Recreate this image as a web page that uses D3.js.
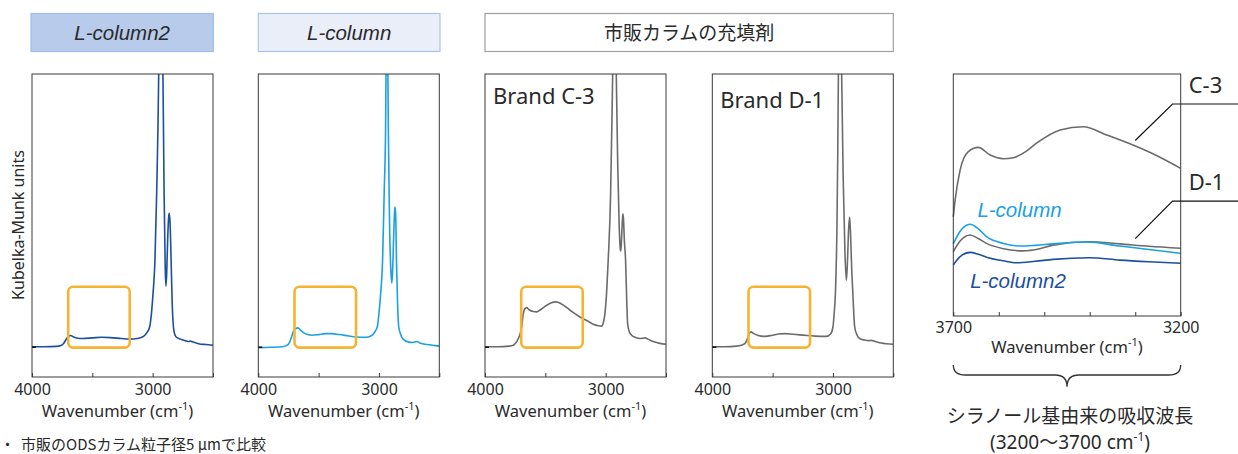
<!DOCTYPE html>
<html><head><meta charset="utf-8">
<script src="https://cdn.jsdelivr.net/npm/d3@7"></script>
<style>body{margin:0;background:#fff}svg{display:block}</style>
</head><body>
<script>
// ---------- data ----------
const headerLabels = ["L-column2", "L-column", "市販カラムの充填剤"];
const panelLabels = ["", "", "Brand C-3", "Brand D-1"];
const wnDomain = [4000, 2500];
const wnTicks = [4000, 3500, 3000, 2500];
const wnTickLabels = [4000, 3000];
const insetDomain = [3700, 3200];
const insetTicks = [3700, 3600, 3500, 3400, 3300, 3200];
const insetTickLabels = [3700, 3200];
const highlightRange = [3700, 3190];
const highlightLevels = [-0.03, 1.98];

const specLColumn2 = [[4000,0],[3900,0],[3800,0.01],[3760,0.04],[3740,0.1],[3720,0.22],[3700,0.33],[3680,0.37],[3660,0.33],[3630,0.29],[3580,0.27],[3500,0.29],[3420,0.31],[3350,0.30],[3260,0.27],[3190,0.25],[3130,0.27],[3085,0.32],[3050,0.45],[3025,0.65],[3010,1.1],[2997,1.75],[2981,2.85],[2967,5.05],[2956,7.25],[2950,9],[2940,13],[2930,15],[2921,12],[2915,9],[2905,5],[2896,2.6],[2890,2.0],[2884,2.4],[2876,3.5],[2867,4.3],[2862,4.4],[2856,4.1],[2848,3.0],[2838,1.4],[2830,0.75],[2820,0.45],[2805,0.32],[2770,0.25],[2730,0.2],[2700,0.17],[2688,0.19],[2670,0.16],[2620,0.1],[2560,0.07],[2500,0.05]];
const specLColumn = [[4000,-0.03],[3900,-0.02],[3800,0.0],[3760,0.05],[3740,0.15],[3726,0.3],[3710,0.5],[3690,0.6],[3671,0.62],[3650,0.55],[3620,0.45],[3590,0.4],[3562,0.38],[3500,0.4],[3440,0.43],[3397,0.43],[3330,0.4],[3260,0.36],[3191,0.32],[3120,0.31],[3082,0.33],[3050,0.4],[3027,0.54],[3014,0.65],[3000,1.1],[2986,1.75],[2970,2.85],[2957,5.05],[2945,7.25],[2940,10],[2934,14],[2928,10],[2922,7],[2912,4],[2900,2.4],[2893,2.1],[2886,2.6],[2877,3.8],[2870,4.5],[2866,4.61],[2861,4.3],[2855,2.85],[2845,1.3],[2836,0.65],[2822,0.43],[2800,0.25],[2754,0.15],[2720,0.14],[2685,0.17],[2660,0.12],[2600,0.07],[2500,0.02]];
const specBrandC3 = [[4000,0],[3900,0],[3800,0.02],[3765,0.05],[3740,0.15],[3715,0.35],[3696,0.65],[3683,1.09],[3670,1.25],[3655,1.29],[3635,1.22],[3600,1.16],[3572,1.15],[3540,1.22],[3500,1.34],[3450,1.45],[3412,1.48],[3370,1.42],[3300,1.22],[3213,0.98],[3150,0.85],[3103,0.74],[3060,0.69],[3034,0.68],[3020,0.78],[3006,1.09],[2992,1.8],[2979,2.85],[2959,5.05],[2948,7.5],[2942,9],[2935,12],[2929,14],[2920,11],[2912,9],[2900,6],[2888,4],[2878,3.2],[2874,3.16],[2868,3.6],[2861,4.2],[2857,4.39],[2852,4.2],[2845,3.5],[2835,2.85],[2826,1.6],[2818,0.76],[2805,0.5],[2785,0.38],[2750,0.3],[2716,0.27],[2690,0.28],[2674,0.29],[2650,0.25],[2600,0.16],[2550,0.11],[2500,0.08]];
const specBrandD1 = [[4000,0],[3900,0],[3800,0.02],[3760,0.05],[3730,0.1],[3710,0.25],[3695,0.42],[3680,0.49],[3660,0.44],[3620,0.37],[3564,0.34],[3500,0.38],[3450,0.42],[3399,0.43],[3330,0.41],[3220,0.37],[3150,0.35],[3055,0.34],[3020,0.42],[3000,0.65],[2990,1.1],[2980,1.75],[2967,3.95],[2960,6.5],[2955,9],[2948,12],[2942,14],[2935,12],[2928,9],[2915,5.5],[2900,3.0],[2889,2.19],[2880,2.8],[2870,3.9],[2862,4.28],[2855,3.8],[2845,2.6],[2835,1.75],[2820,0.65],[2800,0.38],[2779,0.27],[2740,0.22],[2700,0.2],[2683,0.21],[2650,0.17],[2600,0.12],[2500,0.08]];

const insetC3 = [[3700,4.1],[3696,4.79],[3685,6.03],[3667,6.79],[3645,6.97],[3619,6.65],[3590,6.5],[3568,6.54],[3540,6.8],[3517,7.14],[3465,7.69],[3414,7.82],[3363,7.48],[3297,7.0],[3250,6.6],[3200,6.1]];
const insetD1 = [[3700,2.66],[3685,3.1],[3663,3.35],[3645,3.2],[3627,3.0],[3590,2.78],[3547,2.69],[3510,2.78],[3481,2.93],[3400,3.07],[3334,2.98],[3270,2.88],[3200,2.80]];
const insetLColumn = [[3700,2.98],[3685,3.5],[3663,3.79],[3645,3.6],[3627,3.28],[3590,3.0],[3554,2.89],[3520,2.92],[3481,2.98],[3408,3.06],[3334,2.89],[3270,2.75],[3200,2.59]];
const insetLColumn2 = [[3700,2.11],[3685,2.45],[3663,2.63],[3645,2.55],[3627,2.43],[3590,2.28],[3561,2.2],[3520,2.26],[3481,2.34],[3400,2.41],[3334,2.31],[3270,2.24],[3200,2.18]];
const insetLabelLColumn = [3647, 4.1];
const insetLabelLColumn2 = [3663, 1.14];
const leaderC3 = [[3300, 7.25], [3218, 8.76]];
const leaderD1 = [[3300, 3.2], [3218, 4.75]];

// ---------- styles ----------
const C_DARK = "#1c4f9f", C_LIGHT = "#1ba0e2", C_GRAY = "#6b6b6b", C_ORANGE = "#f6b332";
const TXT = "#2a2a2a", FRAME = "#3a3a3a";
const LATIN = "'Noto Sans', 'DejaVu Sans', sans-serif";
const CJK = "'Noto Sans CJK JP', 'Noto Sans', sans-serif";

const W = 1238, H = 454;
const svg = d3.select("body").append("svg").attr("width", W).attr("height", H);

// ---------- headers ----------
const headerBoxes = [
  {x0: 31, x1: 213.3, fill: "#b8cbea", stroke: "#9fbde6", font: "'Liberation Sans', Arial, sans-serif", italic: true, size: 20.5},
  {x0: 258.3, x1: 440, fill: "#e9eef9", stroke: "#a9c5ec", font: "'Liberation Sans', Arial, sans-serif", italic: true, size: 20.5},
  {x0: 485, x1: 893.3, fill: "#ffffff", stroke: "#a0a0a0", font: CJK, italic: false, size: 19}
];
headerBoxes.forEach((b, i) => {
  svg.append("rect").attr("x", b.x0).attr("y", 13.5).attr("width", b.x1 - b.x0).attr("height", 38)
    .attr("fill", b.fill).attr("stroke", b.stroke).attr("stroke-width", 1.2);
  svg.append("text").attr("x", (b.x0 + b.x1) / 2).attr("y", 40).attr("text-anchor", "middle")
    .attr("font-family", b.font).attr("font-size", b.size).attr("font-style", b.italic ? "italic" : "normal")
    .attr("fill", TXT).text(headerLabels[i]);
});

// ---------- helpers ----------
function wavenumberTitle(g, cx, baseline) {
  const t = g.append("text").attr("x", cx).attr("y", baseline).attr("text-anchor", "middle")
    .attr("font-family", LATIN).attr("font-size", 16.5).attr("fill", TXT);
  t.append("tspan").text("Wavenumber (cm");
  t.append("tspan").attr("font-size", 11).attr("dy", -7).text("-1");
  t.append("tspan").attr("dy", 7).text(")");
}

// ---------- spectra panels ----------
const panelLefts = [32, 258.3, 485, 712.3];
const panelW = 181, pTop = 74, pBottom = 377;
const spectra = [specLColumn2, specLColumn, specBrandC3, specBrandD1];
const colors = [C_DARK, C_LIGHT, C_GRAY, C_GRAY];

spectra.forEach((data, i) => {
  const x0 = panelLefts[i];
  const x = d3.scaleLinear().domain(wnDomain).range([x0, x0 + panelW]);
  const y = d3.scaleLinear().domain([-1, 9]).range([pBottom, pTop]);
  const g = svg.append("g");
  const clipId = "clip" + i;
  svg.append("clipPath").attr("id", clipId).append("rect")
    .attr("x", x0).attr("y", pTop).attr("width", panelW).attr("height", pBottom - pTop);
  const line = d3.line().x(d => x(d[0])).y(d => y(d[1])).curve(d3.curveMonotoneX);
  g.append("path").datum(data).attr("d", line).attr("fill", "none")
    .attr("stroke", colors[i]).attr("stroke-width", 1.6).attr("clip-path", `url(#${clipId})`);
  // highlight box
  g.append("rect").attr("x", x(highlightRange[0])).attr("y", y(highlightLevels[1]))
    .attr("width", x(highlightRange[1]) - x(highlightRange[0]))
    .attr("height", y(highlightLevels[0]) - y(highlightLevels[1]))
    .attr("rx", 5).attr("fill", "none").attr("stroke", C_ORANGE).attr("stroke-width", 2.6);
  // frame
  g.append("rect").attr("x", x0).attr("y", pTop).attr("width", panelW).attr("height", pBottom - pTop)
    .attr("fill", "none").attr("stroke", FRAME).attr("stroke-width", 1);
  // x axis
  const ax = g.append("g").attr("transform", `translate(0,${pBottom})`)
    .call(d3.axisBottom(x).tickValues(wnTicks).tickSize(-4).tickPadding(6.8)
      .tickFormat(d => wnTickLabels.includes(d) ? d : ""));
  ax.select(".domain").remove();
  ax.selectAll("line").attr("stroke", FRAME);
  ax.selectAll("text").attr("font-family", LATIN).attr("font-size", 16).attr("fill", TXT);
  // y baseline tick
  const ay = g.append("g").attr("transform", `translate(${x0},0)`)
    .call(d3.axisLeft(y).tickValues([0]).tickSize(-4).tickFormat(""));
  ay.select(".domain").remove();
  ay.selectAll("line").attr("stroke", "#111").attr("stroke-width", 1.5);
  wavenumberTitle(g, x0 + panelW / 2 - 5, 416.5);
  if (panelLabels[i]) {
    g.append("text").attr("x", x0 + 8).attr("y", i === 2 ? 103.5 : 107.5)
      .attr("font-family", LATIN).attr("font-size", 22).attr("fill", TXT).text(panelLabels[i]);
  }
});

// y-axis label
svg.append("text").attr("transform", "translate(23.5,225) rotate(-90)").attr("text-anchor", "middle")
  .attr("font-family", LATIN).attr("font-size", 16).attr("fill", TXT).text("Kubelka-Munk units");

// ---------- inset ----------
const iL = 953.3, iR = 1180.7, iT = 74, iB = 316;
const xi = d3.scaleLinear().domain(insetDomain).range([iL, iR]);
const yi = d3.scaleLinear().domain([0, 10]).range([iB, iT]);
const gi = svg.append("g");
const iline = d3.line().x(d => xi(d[0])).y(d => yi(d[1])).curve(d3.curveMonotoneX);
[[insetC3, C_GRAY], [insetD1, C_GRAY], [insetLColumn, C_LIGHT], [insetLColumn2, C_DARK]].forEach(([d, c]) => {
  gi.append("path").datum(d).attr("d", iline).attr("fill", "none").attr("stroke", c).attr("stroke-width", 1.6);
});
gi.append("rect").attr("x", iL).attr("y", iT).attr("width", iR - iL).attr("height", iB - iT)
  .attr("fill", "none").attr("stroke", FRAME).attr("stroke-width", 1);
const axi = gi.append("g").attr("transform", `translate(0,${iB})`)
  .call(d3.axisBottom(xi).tickValues(insetTicks).tickSize(-4).tickPadding(5.2)
    .tickFormat(d => insetTickLabels.includes(d) ? d : ""));
axi.select(".domain").remove();
axi.selectAll("line").attr("stroke", FRAME);
axi.selectAll("text").attr("font-family", LATIN).attr("font-size", 16).attr("fill", TXT);
wavenumberTitle(gi, (iL + iR) / 2, 352.5);

gi.append("text").attr("x", xi(insetLabelLColumn[0])).attr("y", yi(insetLabelLColumn[1]))
  .attr("font-family", "'Liberation Sans', Arial, sans-serif").attr("font-style", "italic")
  .attr("font-size", 20.5).attr("fill", C_LIGHT).text("L-column");
gi.append("text").attr("x", xi(insetLabelLColumn2[0])).attr("y", yi(insetLabelLColumn2[1]))
  .attr("font-family", "'Liberation Sans', Arial, sans-serif").attr("font-style", "italic")
  .attr("font-size", 20.5).attr("fill", C_DARK).text("L-column2");

[[leaderC3, "C-3"], [leaderD1, "D-1"]].forEach(([pts, lab]) => {
  const p0 = [xi(pts[0][0]), yi(pts[0][1])], p1 = [xi(pts[1][0]), yi(pts[1][1])];
  gi.append("path").attr("d", `M${p0[0]},${p0[1]}L${p1[0]},${p1[1]}L${W},${p1[1]}`)
    .attr("fill", "none").attr("stroke", "#111").attr("stroke-width", 1.2);
  gi.append("text").attr("x", iR + 8).attr("y", p1[1] - 11)
    .attr("font-family", LATIN).attr("font-size", 22).attr("fill", TXT).text(lab);
});

// brace
const bL = xi(insetDomain[0]), bR = xi(insetDomain[1]), bM = (bL + bR) / 2;
gi.append("path").attr("d",
  `M${bL},365 Q${bL},375 ${bL + 12},375 L${bM - 12},375 Q${bM},375 ${bM},386.7 Q${bM},375 ${bM + 12},375 L${bR - 12},375 Q${bR},375 ${bR},365`)
  .attr("fill", "none").attr("stroke", "#333").attr("stroke-width", 1.3);
gi.append("text").attr("x", bM + 3).attr("y", 423).attr("text-anchor", "middle")
  .attr("font-family", CJK).attr("font-size", 19).attr("fill", TXT).text("シラノール基由来の吸収波長");
const t2 = gi.append("text").attr("x", bM + 3).attr("y", 449).attr("text-anchor", "middle")
  .attr("font-family", LATIN).attr("font-size", 19).attr("fill", TXT);
t2.append("tspan").text("(3200");
t2.append("tspan").attr("font-family", CJK).text("～");
t2.append("tspan").text("3700 cm");
t2.append("tspan").attr("font-size", 12).attr("dy", -8).text("-1");
t2.append("tspan").attr("dy", 8).text(")");

// footnote
svg.append("text").attr("x", 0).attr("y", 450).attr("font-family", CJK).attr("font-size", 15)
  .attr("fill", TXT).text("・");
svg.append("text").attr("x", 21).attr("y", 450).attr("font-family", CJK).attr("font-size", 15)
  .attr("fill", TXT).text("市販のODSカラム粒子径5 μmで比較");
</script>
</body></html>
